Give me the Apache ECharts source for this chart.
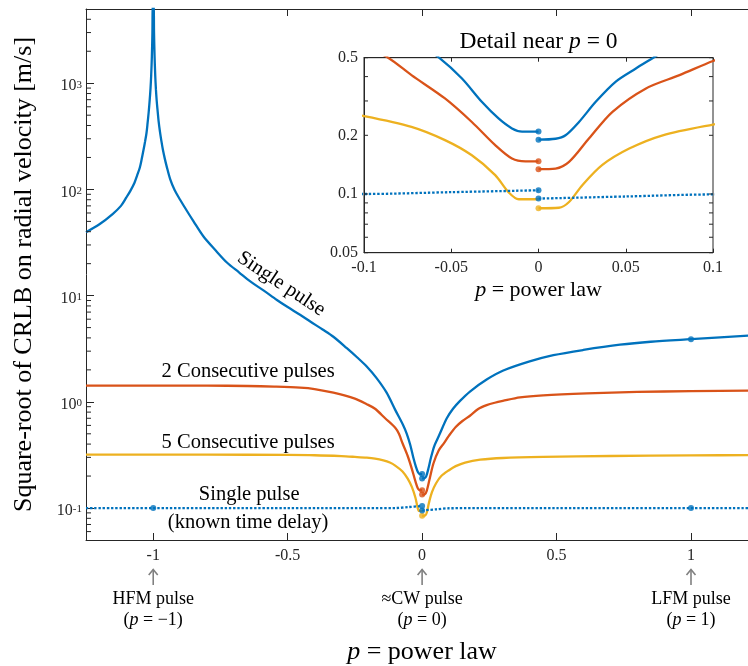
<!DOCTYPE html>
<html><head><meta charset="utf-8">
<script src="https://cdn.jsdelivr.net/npm/echarts@6/dist/echarts.min.js"></script>
<style>html,body{margin:0;padding:0;background:#fff}#c{width:748px;height:666px}</style>
</head><body><div id="c"></div>
<script>
// ---------- tick labels / categories ----------
const mainXTicks = [-1, -0.5, 0, 0.5, 1];
const pulseAt = [-1, 0, 1];
const pulseNames = ['HFM pulse', '\u2248CW pulse', 'LFM pulse'];
const pulseP = ['\u22121', '0', '1'];
const mainYMinor = [0.06,0.07,0.08,0.09,0.2,0.3,0.4,0.5,0.6,0.7,0.8,0.9,2,3,4,5,6,7,8,9,20,30,40,50,60,70,80,90,200,300,400,500,600,700,800,900,2000,3000,4000];
const insetYMajor = [0.05, 0.1, 0.2, 0.5];
const insetYMajorLabels = ['0.05', '0.1', '0.2', '0.5'];
const insetYMinor = [0.06, 0.07, 0.08, 0.09, 0.3, 0.4];

// ---------- series values [p, value] ----------
const singleLeft = [[-1.25,39.6],[-1.2,47],[-1.15,59],[-1.12,70],[-1.1,84],[-1.085,97],[-1.07,115],[-1.06,135],[-1.05,160],[-1.043,192],[-1.036,236],[-1.03,285],[-1.025,340],[-1.021,420],[-1.017,530],[-1.013,700],[-1.01,900],[-1.0075,1200],[-1.005,1800],[-1.003,3000],[-1.0015,6000],
  [-0.9985,6000],[-0.997,3000],[-0.995,1800],[-0.9925,1180],[-0.99,880],[-0.987,680],[-0.984,561],[-0.98,440],[-0.975,350],[-0.97,290],[-0.964,236],[-0.957,195],[-0.95,165],[-0.937,125],[-0.92,98],[-0.9,80],[-0.875,63],[-0.85,50],[-0.813,36],[-0.77,27],[-0.726,20.5],[-0.68,16.5],[-0.639,13.6],[-0.59,11.2],[-0.54,9.1],[-0.5,7.8],[-0.454,6.6],[-0.416,5.7],[-0.37,4.8],[-0.33,4.1],[-0.28,3.2],[-0.24,2.6],[-0.206,2.15],[-0.17,1.68],[-0.132,1.22],[-0.1,0.84],[-0.07,0.6],[-0.057,0.5],[-0.044,0.392],[-0.0325,0.297],[-0.0229,0.244],[-0.0152,0.217],[-0.0094,0.209],[0,0.209]];
const singleRight = [[0,0.19],[0.0098,0.192],[0.0155,0.2],[0.0232,0.234],[0.0328,0.297],[0.0443,0.377],[0.0558,0.44],[0.0658,0.5],[0.0918,0.7],[0.115,0.86],[0.141,1.02],[0.178,1.25],[0.24,1.62],[0.302,1.97],[0.4,2.4],[0.488,2.75],[0.6,3.08],[0.736,3.45],[0.85,3.68],[1.0,3.89],[1.25,4.25]];
const twoLeft = [[-1.25,1.42],[-1.0,1.42],[-0.8,1.42],[-0.65,1.41],[-0.55,1.39],[-0.454,1.36],[-0.4,1.32],[-0.33,1.22],[-0.25,1.07],[-0.206,0.95],[-0.175,0.86],[-0.1375,0.7],[-0.1,0.57],[-0.0862,0.5],[-0.0728,0.407],[-0.0536,0.309],[-0.0382,0.234],[-0.0248,0.178],[-0.0152,0.152],[-0.0075,0.147],[0,0.147]];
const twoRight = [[0,0.134],[0.0098,0.135],[0.0175,0.146],[0.029,0.193],[0.0424,0.264],[0.0616,0.348],[0.0808,0.407],[0.1,0.481],[0.125,0.58],[0.15,0.66],[0.178,0.74],[0.21,0.86],[0.24,0.93],[0.27,0.98],[0.3,1.02],[0.364,1.1],[0.45,1.15],[0.612,1.2],[0.8,1.24],[1.0,1.26],[1.25,1.28]];
const fiveLeft = [[-1.25,0.318],[-0.8,0.318],[-0.5,0.316],[-0.4,0.314],[-0.3,0.308],[-0.25,0.303],[-0.206,0.298],[-0.175,0.292],[-0.144,0.281],[-0.12,0.268],[-0.1,0.251],[-0.0728,0.221],[-0.0536,0.189],[-0.0382,0.158],[-0.0248,0.125],[-0.0171,0.102],[-0.0113,0.094],[0,0.094]];
const fiveRight = [[0,0.0845],[0.0117,0.085],[0.0175,0.091],[0.0251,0.111],[0.0366,0.141],[0.052,0.171],[0.0712,0.2],[0.1,0.227],[0.125,0.248],[0.16,0.268],[0.216,0.285],[0.3,0.296],[0.45,0.303],[0.7,0.309],[1.0,0.313],[1.25,0.315]];
const knownLeft = [[-1.25,0.1],[-0.5,0.1],[-0.1,0.1],[-0.05,0.1022],[0,0.1045]];
const knownRight = [[0,0.0947],[0.05,0.0971],[0.1,0.0995],[0.5,0.1],[1.25,0.1]];
const singleDots = [[0,0.209],[0,0.19],[1,3.89]];
const twoDots = [[0,0.147],[0,0.134]];
const fiveDots = [[0,0.0845]];
const knownDots = [[-1,0.1],[0,0.1045],[0,0.0947],[1,0.1]];

// ---------- styles / layout ----------
const FONT = 'Liberation Serif';
const AX = '#262626';
const BLUE = '#0072BD', RED = '#D95319', YEL = '#EDB120';
const X_MIN = -1.25, X_MAX = 1.212, Y_MIN = 0.05, Y_MAX = 5000;
const XI_MIN = -0.1, XI_MAX = 0.1, YI_MIN = 0.05, YI_MAX = 0.5;
const LW = 2.3;

function near(a, b) { return Math.abs(a - b) < 1e-9; }
function fmt(v) { return String(Number(v.toFixed(4))); }

function xMainLabel(v) {
  if (!mainXTicks.some(t => near(t, v))) return '';
  let s = '{n|' + fmt(v) + '}';
  const k = pulseAt.findIndex(t => near(t, v));
  if (k >= 0) s += '\n{sp| }\n{t|' + pulseNames[k] + '}\n{t|(}{i|p}{t| = ' + pulseP[k] + ')}';
  return s;
}
function yMainLabel(v) {
  const l = Math.log10(v), e = Math.round(l);
  if (Math.abs(l - e) > 1e-6) return '';
  return '{b|10}{s|' + (e < 0 ? '-' : '') + Math.abs(e) + '}';
}

const chart = echarts.init(document.getElementById('c'));
const series = [];
const curves = [
  [singleLeft, singleRight, BLUE, false],
  [twoLeft, twoRight, RED, false],
  [fiveLeft, fiveRight, YEL, false],
  [knownLeft, knownRight, BLUE, true]
];
const dots = [[singleDots, BLUE], [twoDots, RED], [fiveDots, YEL], [knownDots, BLUE]];
[[0, 0], [2, 1]].forEach(([xi, yi], gi) => {
  curves.forEach(([l, r, col, dotted], ci) => {
    [l, r].forEach(d => series.push({
      type: 'line', data: d, xAxisIndex: xi, yAxisIndex: yi, symbol: 'none', showSymbol: false,
      smooth: 0.3, clip: true, silent: true, z: 3 + ci,
      lineStyle: { color: col, width: LW, type: dotted ? [2.4, 1.8] : 'solid' }
    }));
  });
  dots.forEach(([d, col]) => {
    const dd = gi === 0 ? d : d.filter(p => p[0] >= XI_MIN && p[0] <= XI_MAX);
    series.push({ type: 'scatter', data: dd, xAxisIndex: xi, yAxisIndex: yi, symbol: 'circle',
      symbolSize: 6, itemStyle: { color: col }, silent: true, z: 10 });
  });
});
// main y minor ticks
series.push({
  type: 'custom', xAxisIndex: 0, yAxisIndex: 0, silent: true, z: 20,
  data: mainYMinor.map(v => [X_MIN, v]),
  renderItem: (p, api) => {
    const pt = api.coord([api.value(0), api.value(1)]);
    return { type: 'line', shape: { x1: pt[0], y1: pt[1], x2: pt[0] + 5, y2: pt[1] }, style: { stroke: AX, lineWidth: 1 } };
  }
});
// inset y ticks + labels
series.push({
  type: 'custom', xAxisIndex: 2, yAxisIndex: 1, silent: true, z: 20,
  data: insetYMajor.map((v, i) => [XI_MIN, v, i]).concat(insetYMinor.map(v => [XI_MIN, v, -1])),
  renderItem: (p, api) => {
    const a = api.coord([XI_MIN, api.value(1)]);
    const b = api.coord([XI_MAX, api.value(1)]);
    const idx = api.value(2);
    const ch = [
      { type: 'line', shape: { x1: a[0], y1: a[1], x2: a[0] + 4, y2: a[1] }, style: { stroke: AX, lineWidth: 1 } },
      { type: 'line', shape: { x1: b[0], y1: b[1], x2: b[0] - 4, y2: b[1] }, style: { stroke: AX, lineWidth: 1 } }
    ];
    if (idx >= 0) ch.push({ type: 'text', style: { text: insetYMajorLabels[idx], x: a[0] - 6, y: a[1],
      align: 'right', textAlign: 'right', verticalAlign: 'middle', textVerticalAlign: 'middle',
      fontSize: 16, fontFamily: FONT, fill: AX } });
    return { type: 'group', children: ch };
  }
});
// arrows under the pulse ticks
series.push({
  type: 'custom', xAxisIndex: 0, yAxisIndex: 0, silent: true, clip: false, z: 20,
  data: pulseAt.map(p => [p, Y_MIN]),
  renderItem: (p, api) => {
    const pt = api.coord([api.value(0), api.value(1)]);
    const x = pt[0], y = pt[1];
    return { type: 'group', children: [
      { type: 'line', shape: { x1: x, y1: y + 45, x2: x, y2: y + 29.5 }, style: { stroke: '#808080', lineWidth: 1.6 } },
      { type: 'polyline', shape: { points: [[x - 4.5, y + 35], [x, y + 29.5], [x + 4.5, y + 35]] }, style: { stroke: '#808080', lineWidth: 1.6, fill: null } }
    ] };
  }
});

const option = {
  animation: false,
  backgroundColor: '#fff',
  textStyle: { fontFamily: FONT },
  grid: [
    { left: 86, top: 9, width: 662, height: 531, show: false },
    { left: 364, top: 57.7, width: 349, height: 195, show: true, borderColor: AX, borderWidth: 1, backgroundColor: '#fff' }
  ],
  xAxis: [
    { gridIndex: 0, type: 'value', min: X_MIN, max: X_MAX, position: 'bottom',
      axisLine: { show: true, onZero: false, lineStyle: { color: AX, width: 1 } },
      axisTick: { show: true, inside: true, length: 7, customValues: mainXTicks, lineStyle: { color: AX } },
      axisLabel: { show: true, margin: 8, customValues: mainXTicks, formatter: xMainLabel, hideOverlap: false,
        rich: {
          n: { fontSize: 16, lineHeight: 16, fontFamily: FONT, color: AX },
          sp: { fontSize: 10, lineHeight: 25 },
          t: { fontSize: 18, lineHeight: 21, fontFamily: FONT, color: '#000' },
          i: { fontSize: 18, lineHeight: 21, fontFamily: FONT, fontStyle: 'italic', color: '#000' }
        } },
      splitLine: { show: false } },
    { gridIndex: 0, type: 'value', min: X_MIN, max: X_MAX, position: 'top',
      axisLine: { show: true, onZero: false, lineStyle: { color: AX, width: 1 } },
      axisTick: { show: true, inside: true, length: 7, customValues: mainXTicks, lineStyle: { color: AX } },
      axisLabel: { show: false }, splitLine: { show: false } },
    { gridIndex: 1, type: 'value', min: XI_MIN, max: XI_MAX, interval: 0.05, position: 'bottom',
      axisLine: { show: true, onZero: false, lineStyle: { color: AX, width: 1 } },
      axisTick: { show: true, inside: true, length: 4, lineStyle: { color: AX } },
      axisLabel: { show: true, margin: 7, fontSize: 16, fontFamily: FONT, color: AX, formatter: v => fmt(v) },
      splitLine: { show: false } },
    { gridIndex: 1, type: 'value', min: XI_MIN, max: XI_MAX, interval: 0.05, position: 'top',
      axisLine: { show: true, onZero: false, lineStyle: { color: AX, width: 1 } },
      axisTick: { show: true, inside: true, length: 4, lineStyle: { color: AX } },
      axisLabel: { show: false }, splitLine: { show: false } }
  ],
  yAxis: [
    { gridIndex: 0, type: 'log', logBase: 10, min: Y_MIN, max: Y_MAX,
      axisLine: { show: true, onZero: false, lineStyle: { color: AX, width: 1 } },
      axisTick: { show: true, inside: true, length: 8, lineStyle: { color: AX } },
      axisLabel: { show: true, margin: 4, formatter: yMainLabel, hideOverlap: false,
        rich: {
          b: { fontSize: 16, lineHeight: 22, padding: [6, 0, 0, 0], verticalAlign: 'bottom', fontFamily: FONT, color: AX },
          s: { fontSize: 11, lineHeight: 11, padding: [7, 0, 0, 0], verticalAlign: 'top', fontFamily: FONT, color: AX }
        } },
      splitLine: { show: false }, minorTick: { show: false } },
    { gridIndex: 1, type: 'log', logBase: 10, min: YI_MIN, max: YI_MAX,
      axisLine: { show: true, onZero: false, lineStyle: { color: AX, width: 1 } },
      axisTick: { show: false }, axisLabel: { show: false }, splitLine: { show: false } }
  ],
  series: series
};
chart.setOption(option);

// ---------- text annotations anchored to data coordinates ----------
const notes = [
  { text: 'Single pulse', at: [-0.524, 12.9], rot: -33.5 },
  { text: '2 Consecutive pulses', at: [-0.647, 1.92], rot: 0 },
  { text: '5 Consecutive pulses', at: [-0.647, 0.412], rot: 0 },
  { text: 'Single pulse', at: [-0.643, 0.134], rot: 0 },
  { text: '(known time delay)', at: [-0.647, 0.0728], rot: 0 }
];
const gfx = notes.map(n => {
  const pt = chart.convertToPixel({ xAxisIndex: 0, yAxisIndex: 0 }, n.at);
  return { type: 'text', x: pt[0], y: pt[1], rotation: n.rot * Math.PI / 180, silent: true, z: 50,
    style: { text: n.text, fontSize: 20.5, fontFamily: FONT, fill: '#000', align: 'center', verticalAlign: 'middle', textAlign: 'center', textVerticalAlign: 'middle' } };
});
function label(text, x, y, size, rot) {
  return { type: 'text', x: x, y: y, rotation: rot || 0, silent: true, z: 50,
    style: { text: text, fontSize: size, fontFamily: FONT, fill: '#000', align: 'center', verticalAlign: 'middle',
      textAlign: 'center', textVerticalAlign: 'middle', rich: { i: { fontSize: size, fontFamily: FONT, fontStyle: 'italic', fill: '#000' } } } };
}
gfx.push(label('Square-root of CRLB on radial velocity [m/s]', 24, 274.5, 26, Math.PI / 2));
gfx.push(label('{i|p} = power law', 422, 652, 26));
gfx.push(label('Detail near {i|p} = 0', 538.5, 42, 23.5));
gfx.push(label('{i|p} = power law', 538.5, 290, 22));
chart.setOption({ graphic: { elements: gfx } });
</script>
</body></html>
